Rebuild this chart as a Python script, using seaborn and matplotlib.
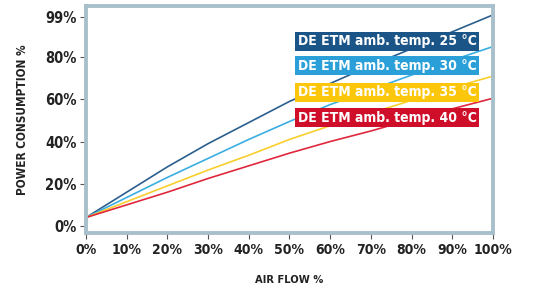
import matplotlib
matplotlib.use("Agg")
import matplotlib.pyplot as plt
import seaborn as sns
import pandas as pd

# valori
air_flow = [0, 10, 20, 30, 40, 50, 60, 70, 80, 90, 100]
temp_25 = [4, 16, 28, 39, 49, 59, 67.5, 76, 84, 92, 100]
temp_30 = [4, 13.5, 23, 32, 41, 49.5, 57.5, 64.5, 71.5, 78.5, 85]
temp_35 = [4, 11.5, 19, 26.5, 33.5, 41, 47.5, 53.5, 59.5, 65.5, 71]
temp_40 = [4, 10, 16, 22.5, 28.5, 34.5, 40, 45, 50.5, 55.5, 60.5]

series_names = ["DE ETM amb. temp. 25 °C", "DE ETM amb. temp. 30 °C",
                "DE ETM amb. temp. 35 °C", "DE ETM amb. temp. 40 °C"]
line_colors = ["#2b5f8e", "#3aaee0", "#f8cf2c", "#e0283c"]
box_colors = ["#1b5588", "#2a9fd8", "#fcc70a", "#cf0f2a"]

x_ticks = [0, 10, 20, 30, 40, 50, 60, 70, 80, 90, 100]
y_ticks = [0, 20, 40, 60, 80, 99]

df = pd.DataFrame({
    "air": air_flow * 4,
    "power": temp_25 + temp_30 + temp_35 + temp_40,
    "serie": [n for n in series_names for _ in air_flow],
})

sns.set_style("white")
plt.rcParams["font.family"] = ["DejaVu Sans"]
plt.rcParams["font.stretch"] = "condensed"
plt.rcParams["font.weight"] = "bold"

fig = plt.figure(figsize=(5.34, 2.89), dpi=100)
ax = fig.add_axes([0.161, 0.194, 0.762, 0.785])

sns.lineplot(data=df, x="air", y="power", hue="serie", palette=line_colors,
             linewidth=1.2, legend=False, ax=ax)

ax.set_xlim(0, 100)
ax.set_ylim(-3.3, 104.2)
ax.set_xticks(x_ticks)
ax.set_xticklabels([f"{v}%" for v in x_ticks], fontsize=10, fontweight="bold", color="#222222")
ax.set_yticks(y_ticks)
ax.set_yticklabels([f"{v}%" for v in y_ticks], fontsize=10.5, fontweight="bold", color="#222222")
ax.tick_params(axis="both", direction="out", length=4, width=0.8, color="#555555", pad=3,
               bottom=True, left=True)

for s in ax.spines.values():
    s.set_color("#a8c0cc")
    s.set_linewidth(2.8)

ax.set_xlabel("AIR FLOW %", fontsize=8, fontweight="bold", labelpad=13, color="#222222")
ax.set_ylabel("POWER CONSUMPTION %", fontsize=8.5, fontweight="bold", labelpad=11, color="#222222")

box_y = [0.846, 0.736, 0.621, 0.507]
for name, col, yy in zip(series_names, box_colors, box_y):
    ax.text(0.52, yy, name, transform=ax.transAxes, ha="left", va="center",
            fontsize=10, fontweight="bold", color="white",
            bbox=dict(boxstyle="square,pad=0.18", facecolor=col, edgecolor="none"))

fig.savefig("out.png", dpi=100)
